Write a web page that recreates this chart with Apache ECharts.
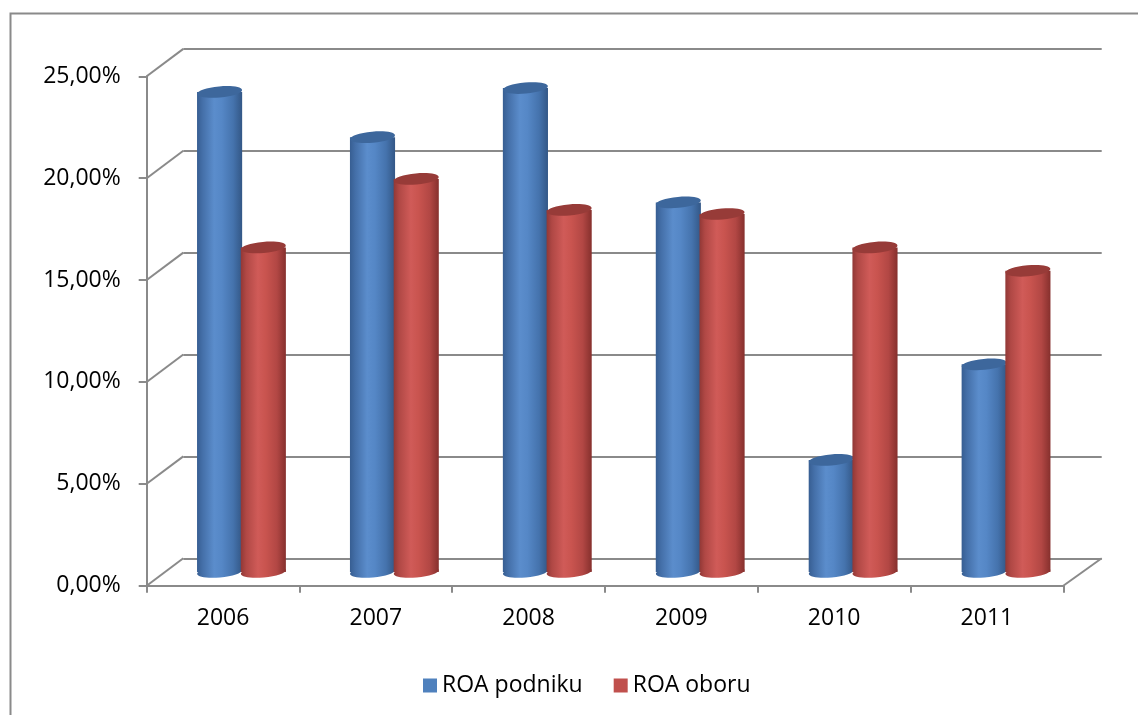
<!DOCTYPE html>
<html>
<head>
<meta charset="utf-8">
<script src="https://cdn.jsdelivr.net/npm/echarts@6/dist/echarts.min.js"></script>
<style>
html,body{margin:0;padding:0;background:#fff;}
#chart{width:1138px;height:715px;}
</style>
</head>
<body>
<div id="chart"></div>
<script>
// ---- data ----
var categories = ['2006', '2007', '2008', '2009', '2010', '2011'];
var seriesNames = ['ROA podniku', 'ROA oboru'];
var roaPodniku = [23.56, 21.34, 23.75, 18.14, 5.5, 10.19];
var roaOboru = [15.93, 19.29, 17.77, 17.57, 15.93, 14.78];
var yTickValues = [0, 5, 10, 15, 20, 25];
var yTickLabels = ['0,00%', '5,00%', '10,00%', '15,00%', '20,00%', '25,00%'];

// ---- layout (3D frame: front axis plane, middle bar plane, back wall) ----
var FRONT = {left: 146.7, top: 76.3, width: 916.6, height: 509.4};
var BACK = {left: 183.3, top: 48.9, width: 918.4, height: 509.4};
var MID = {
  left: (FRONT.left + BACK.left) / 2,
  top: (FRONT.top + BACK.top) / 2,
  width: (FRONT.width + BACK.width) / 2,
  height: 509.4
};
var DXL = BACK.left - FRONT.left;
var DXR = (BACK.left + BACK.width) - (FRONT.left + FRONT.width);
var DY = BACK.top - FRONT.top;
var FONT = '"Open Sans", "Noto Sans", sans-serif';
var GRAY = '#8a8a8a';

function grad(stops) {
  return new echarts.graphic.LinearGradient(0, 0, 1, 0, stops.map(function (s) {
    return {offset: s[0], color: s[1]};
  }));
}
var blueBody = [[0, '#375e92'], [0.12, '#446fa8'], [0.38, '#5b8dcc'], [0.55, '#5587c6'], [0.8, '#4573ad'], [1, '#335786']];
var redBody = [[0, '#913836'], [0.12, '#b04845'], [0.38, '#d05b58'], [0.55, '#c9544f'], [0.8, '#b24744'], [1, '#86302d']];

function cylinder(offsetFrac, widthFrac, bodyStops, topColor) {
  return function (params, api) {
    var i = api.value(0), v = api.value(1);
    var band = api.size([1, 0])[0];
    var top = api.coord([i, v]);
    var base = api.coord([i, 0]);
    var w = band * widthFrac;
    var cx = top[0] + band * offsetFrac;
    var rx = w / 2, ry = 5.5, rot = 0.09;
    return {
      type: 'group',
      children: [
        {type: 'ellipse', shape: {cx: cx, cy: base[1], rx: rx, ry: ry},
          rotation: rot, originX: cx, originY: base[1],
          style: {fill: grad(bodyStops)}},
        {type: 'rect', shape: {x: cx - rx, y: top[1], width: w, height: base[1] - top[1]},
          style: {fill: grad(bodyStops)}},
        {type: 'ellipse', shape: {cx: cx, cy: top[1], rx: rx, ry: ry},
          rotation: rot, originX: cx, originY: top[1],
          style: {fill: topColor}}
      ]
    };
  };
}

var chart = echarts.init(document.getElementById('chart'), null, {renderer: 'canvas'});
var option = {
  animation: false,
  backgroundColor: '#ffffff',
  graphic: [{
    type: 'rect', left: 8, top: 11, z: -10, silent: true,
    shape: {x: 0, y: 0, width: 1200, height: 800},
    style: {fill: 'none', stroke: GRAY, lineWidth: 2}
  }],
  legend: {
    data: seriesNames,
    left: 418, top: 669,
    icon: 'rect', itemWidth: 14, itemHeight: 14, itemGap: 31,
    textStyle: {fontFamily: FONT, fontSize: 23, color: '#000'}
  },
  grid: [
    {left: BACK.left, top: BACK.top, width: BACK.width, height: BACK.height},
    {left: FRONT.left, top: FRONT.top, width: FRONT.width, height: FRONT.height},
    {left: MID.left, top: MID.top, width: MID.width, height: MID.height}
  ],
  xAxis: [
    {gridIndex: 0, type: 'category', data: categories, show: false},
    {gridIndex: 1, type: 'category', data: categories,
      axisLine: {show: true, lineStyle: {color: GRAY, width: 2}},
      axisTick: {show: true, length: 7, lineStyle: {color: GRAY, width: 2}},
      axisLabel: {margin: 21, fontFamily: FONT, fontSize: 23, color: '#000'},
      splitLine: {show: false}},
    {gridIndex: 2, type: 'category', data: categories, show: false}
  ],
  yAxis: [
    {gridIndex: 0, type: 'value', min: 0, max: 25, interval: 5,
      axisLine: {show: false}, axisTick: {show: false}, axisLabel: {show: false},
      splitLine: {show: true, lineStyle: {color: GRAY, width: 2}}},
    {gridIndex: 1, type: 'value', min: 0, max: 25, interval: 5,
      axisLine: {show: true, lineStyle: {color: GRAY, width: 2}},
      axisTick: {show: true, length: 8, lineStyle: {color: GRAY, width: 2}},
      axisLabel: {margin: 26, fontFamily: FONT, fontSize: 23, color: '#000',
        formatter: function (v) { var k = yTickValues.indexOf(v); return k >= 0 ? yTickLabels[k] : ''; }},
      splitLine: {show: false}},
    {gridIndex: 2, type: 'value', min: 0, max: 25, interval: 5, show: false,
      splitLine: {show: false}}
  ],
  series: [
    {
      type: 'custom', name: 'frame', xAxisIndex: 1, yAxisIndex: 1, silent: true, z: 1,
      data: yTickValues.map(function (v) { return [0, v]; }),
      renderItem: function (params, api) {
        var v = api.value(1);
        var p = api.coord([0, v]);
        var band = api.size([1, 0])[0];
        var x0 = p[0] - band / 2;
        var children = [{type: 'line', shape: {x1: x0, y1: p[1], x2: x0 + DXL, y2: p[1] + DY},
          style: {stroke: GRAY, lineWidth: 2}}];
        if (v === 0) {
          var x1 = x0 + band * categories.length;
          children.push({type: 'line', shape: {x1: x1, y1: p[1], x2: x1 + DXR, y2: p[1] + DY},
            style: {stroke: GRAY, lineWidth: 2}});
        }
        return {type: 'group', children: children};
      }
    },
    {
      type: 'custom', name: seriesNames[0], xAxisIndex: 2, yAxisIndex: 2, z: 5,
      itemStyle: {color: '#4f81bd'},
      data: roaPodniku.map(function (v, i) { return [i, v]; }),
      encode: {x: 0, y: 1},
      renderItem: cylinder(-0.143, 0.295, blueBody, '#3d679c')
    },
    {
      type: 'custom', name: seriesNames[1], xAxisIndex: 2, yAxisIndex: 2, z: 6,
      itemStyle: {color: '#c0504d'},
      data: roaOboru.map(function (v, i) { return [i, v]; }),
      encode: {x: 0, y: 1},
      renderItem: cylinder(0.143, 0.295, redBody, '#973b38')
    }
  ]
};
chart.setOption(option);
</script>
</body>
</html>
